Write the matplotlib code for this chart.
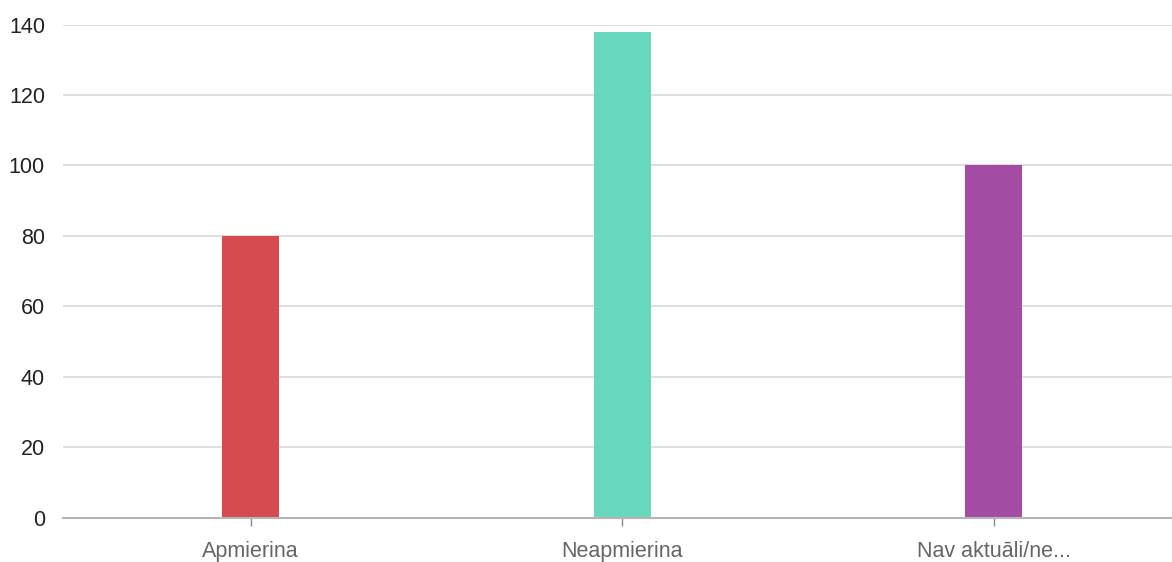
import matplotlib
matplotlib.use("Agg")
import matplotlib.pyplot as plt

categories = ["Apmierina", "Neapmierina", "Nav aktuāli/ne..."]
values = [80, 138, 100]
colors = ["#d64b4f", "#6ad8bd", "#a34ca3"]
y_ticks = [0, 20, 40, 60, 80, 100, 120, 140]

plt.rcParams['font.family'] = ['Liberation Sans', 'DejaVu Sans']

fig = plt.figure(figsize=(11.72, 5.62), dpi=100)
ax = fig.add_axes([63 / 1172, 44.5 / 562, 1 - 63 / 1172, 492.8 / 562])

x = list(range(len(categories)))
ax.bar(x, values, width=0.153, color=colors, zorder=3)

ax.set_xlim(-0.505, 2.48)
ax.set_ylim(0, 140)
ax.set_yticks(y_ticks)
ax.set_xticks(x)
ax.set_xticklabels(categories, color="#666666", fontsize=15.5)
ax.tick_params(axis="y", length=0, pad=13, labelsize=15.5, labelcolor="#222222")
ax.tick_params(axis="x", length=6, width=1, color="#888888", pad=11)

ax.grid(axis="y", color="#d9d9d9", linewidth=1.2, zorder=0)
for s in ["top", "right", "left"]:
    ax.spines[s].set_visible(False)
ax.spines["bottom"].set_color("#b5b5b5")
ax.spines["bottom"].set_linewidth(1.5)
ax.spines["bottom"].set_zorder(4)

fig.savefig("out.png", dpi=100)
